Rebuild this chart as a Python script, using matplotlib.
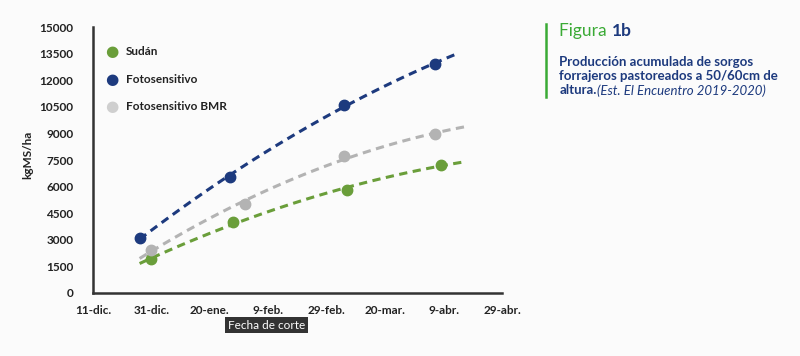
import numpy as np
import matplotlib.pyplot as plt

# days since 11-dic. (2019), x axis in days
tick_days = [0, 20, 40, 60, 80, 100, 120, 140]
tick_labels = ['11-dic.', '31-dic.', '20-ene.', '9-feb.', '29-feb.', '20-mar.', '9-abr.', '29-abr.']
y_ticks = [0, 1500, 3000, 4500, 6000, 7500, 9000, 10500, 12000, 13500, 15000]

series_names = ['Sudán', 'Fotosensitivo', 'Fotosensitivo BMR']
sudan_days = [20, 48, 87, 119]
sudan_kg = [1900, 4030, 5820, 7220]
foto_days = [16, 47, 86, 117]
foto_kg = [3080, 6550, 10630, 12930]
bmr_days = [20, 52, 86, 117]
bmr_kg = [2410, 5040, 7720, 8960]

navy = '#1d3a7e'
green = '#6a9e3a'
gray = '#b3b3b3'
legend_gray = '#cfcfcf'

plt.rcParams['font.family'] = ['Lato', 'DejaVu Sans']

fig = plt.figure(figsize=(8, 3.56), dpi=100)
fig.patch.set_facecolor('#fbfbfb')
ax = fig.add_axes([0.116, 0.177, 0.512, 0.747])
ax.set_facecolor('#fbfbfb')

# second order trend lines, as in the original spreadsheet chart
trend_spans = [(16, 127), (16, 124.5), (16, 127)]
data = [(sudan_days, sudan_kg, green), (foto_days, foto_kg, navy), (bmr_days, bmr_kg, gray)]
for (d, kg, col), (t0, t1) in zip(data, trend_spans):
    coef = np.polyfit(d, kg, 2)
    xs = np.linspace(t0, t1, 100)
    ax.plot(xs, np.polyval(coef, xs), color=col, lw=2.2, dashes=(2.7, 1.8), zorder=2)
    ax.plot(d, kg, 'o', color=col, ms=7.5, zorder=3)

ax.set_xlim(0, 140)
ax.set_ylim(0, 15000)
ax.set_xticks(tick_days)
ax.set_xticklabels(tick_labels)
ax.set_yticks(y_ticks)
ax.tick_params(length=0, labelsize=8.5, colors='#222222')
for lab in ax.get_xticklabels() + ax.get_yticklabels():
    lab.set_fontweight('bold')
ax.tick_params(axis='x', pad=9)
ax.tick_params(axis='y', pad=14)
for s in ['top', 'right']:
    ax.spines[s].set_visible(False)
for s in ['left', 'bottom']:
    ax.spines[s].set_color('#333333')
    ax.spines[s].set_linewidth(1.8)

ax.set_ylabel('kgMS/ha', fontsize=8.5, fontweight='bold', color='#222222')
ax.yaxis.set_label_coords(-0.145, 0.52)

fig.text(0.333, 0.087, 'Fecha de corte', fontsize=8.5, color='white', ha='center', va='center',
         bbox=dict(boxstyle='square,pad=0.22', fc='#333333', ec='none'))

# legend
leg_y = [0.854, 0.778, 0.702]
leg_cols = [green, navy, legend_gray]
for name, yy, col in zip(series_names, leg_y, leg_cols):
    fig.text(0.14, yy, '\u25CF', color=col, fontsize=11, ha='center', va='center',
             family='DejaVu Sans')
    fig.text(0.157, yy, name, fontsize=8.5, fontweight='bold', color='#222222', va='center')

# right-side caption
fig.add_artist(plt.Line2D([0.683, 0.683], [0.727, 0.933], color='#3aaa35', lw=1.8))
f = fig.text(0.699, 0.912, 'Figura ', fontsize=12.5, color='#3aaa35', va='center')
fig.text(0.765, 0.912, '1b', fontsize=12.5, color=navy, fontweight='bold', va='center')
cap_kw = dict(fontsize=9.5, color=navy, va='center')
fig.text(0.699, 0.826, 'Producción acumulada de sorgos', fontweight='bold', **cap_kw)
fig.text(0.699, 0.786, 'forrajeros pastoreados a 50/60cm de', fontweight='bold', **cap_kw)
t = fig.text(0.699, 0.746, 'altura.', fontweight='bold', **cap_kw)
ax.annotate('(Est. El Encuentro 2019-2020)', xy=(1, 0.5), xycoords=t, style='italic',
            fontsize=9.5, color=navy, va='center', ha='left', annotation_clip=False)

fig.savefig('out.png', dpi=100, facecolor=fig.get_facecolor())
